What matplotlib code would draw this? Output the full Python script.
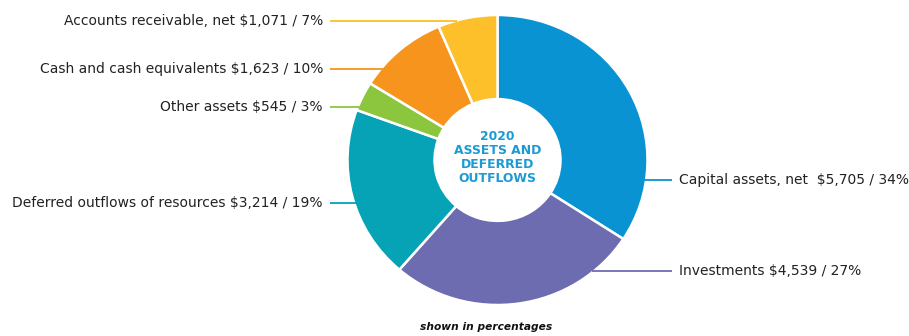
"""
2020 assets and deferred outflows - donut chart with leader-line labels.
"""

import numpy as np
import matplotlib
matplotlib.use("Agg")
import matplotlib.pyplot as plt

# ─── Data ────────────────────────────────────────────────────────────────────
categories = [
    "Capital assets, net ",
    "Investments",
    "Deferred outflows of resources",
    "Other assets",
    "Cash and cash equivalents",
    "Accounts receivable, net",
]
amounts = [5705, 4539, 3214, 545, 1623, 1071]
percents = [34, 27, 19, 3, 10, 7]
colors = ["#0a93d2", "#6e6cb0", "#05a3b5", "#8cc63f", "#f7941d", "#fdbf2a"]

center_title = "2020\nASSETS AND\nDEFERRED\nOUTFLOWS"
footnote = "shown in percentages"

# ─── Layout (pixels, origin top-left) ────────────────────────────────────────
W, H = 909, 336
CX, CY = 497.5, 160     # donut centre
RX, RY = 150, 145       # outer radii
HOLE = 0.42             # inner radius as fraction of outer

# label row (y) and side for each category
label_y = [180, 271, 203, 107, 69, 21]
label_side = ["right", "right", "left", "left", "left", "left"]
LEFT_TEXT_X, LEFT_LINE_X = 323, 330
RIGHT_TEXT_X, RIGHT_LINE_X = 679, 672

fig = plt.figure(figsize=(W / 100, H / 100), dpi=100)

# donut axes sized to the outer ellipse
pie_ax = fig.add_axes([(CX - RX) / W, (H - CY - RY) / H, 2 * RX / W, 2 * RY / H])
pie_ax.pie(amounts, colors=colors, startangle=90, counterclock=False,
           radius=1, frame=True,
           wedgeprops=dict(width=1 - HOLE, edgecolor="white", linewidth=1.8))
pie_ax.set_xlim(-1, 1)
pie_ax.set_ylim(-1, 1)
pie_ax.set_aspect("auto")
pie_ax.axis("off")

# overlay axes in pixel coordinates for labels and leader lines
ax = fig.add_axes([0, 0, 1, 1], facecolor="none")
ax.set_xlim(0, W)
ax.set_ylim(H, 0)
ax.axis("off")


def ellipse_x(y, side):
    """x where a horizontal line at y meets the outer edge of the donut."""
    dy = (y - CY) / RY
    dx = RX * np.sqrt(max(0.0, 1 - dy * dy))
    return CX - dx if side == "left" else CX + dx


for name, amt, pct, y, side, col in zip(categories, amounts, percents,
                                         label_y, label_side, colors):
    text = f"{name} ${amt:,} / {pct}%"
    edge = ellipse_x(y, side)
    if side == "left":
        ax.plot([LEFT_LINE_X, edge + 2], [y, y], color=col, lw=1.3,
                solid_capstyle="butt", zorder=1)
        ax.text(LEFT_TEXT_X, y, text, ha="right", va="center",
                fontsize=10, family="DejaVu Sans", color="#222222")
    else:
        ax.plot([edge - 2, RIGHT_LINE_X], [y, y], color=col, lw=1.3,
                solid_capstyle="butt", zorder=1)
        ax.text(RIGHT_TEXT_X, y, text, ha="left", va="center",
                fontsize=10, family="DejaVu Sans", color="#222222")

ax.text(CX, 157.5, center_title, ha="center", va="center", fontsize=8.9,
        fontweight="bold", color="#1b9ad6", linespacing=1.1,
        family="DejaVu Sans")

ax.text(CX - 11, 327, footnote, ha="center", va="center", fontsize=7.7,
        fontweight="bold", fontstyle="italic", color="#111111",
        family="DejaVu Sans")

fig.savefig("out.png", dpi=100, facecolor="white")
